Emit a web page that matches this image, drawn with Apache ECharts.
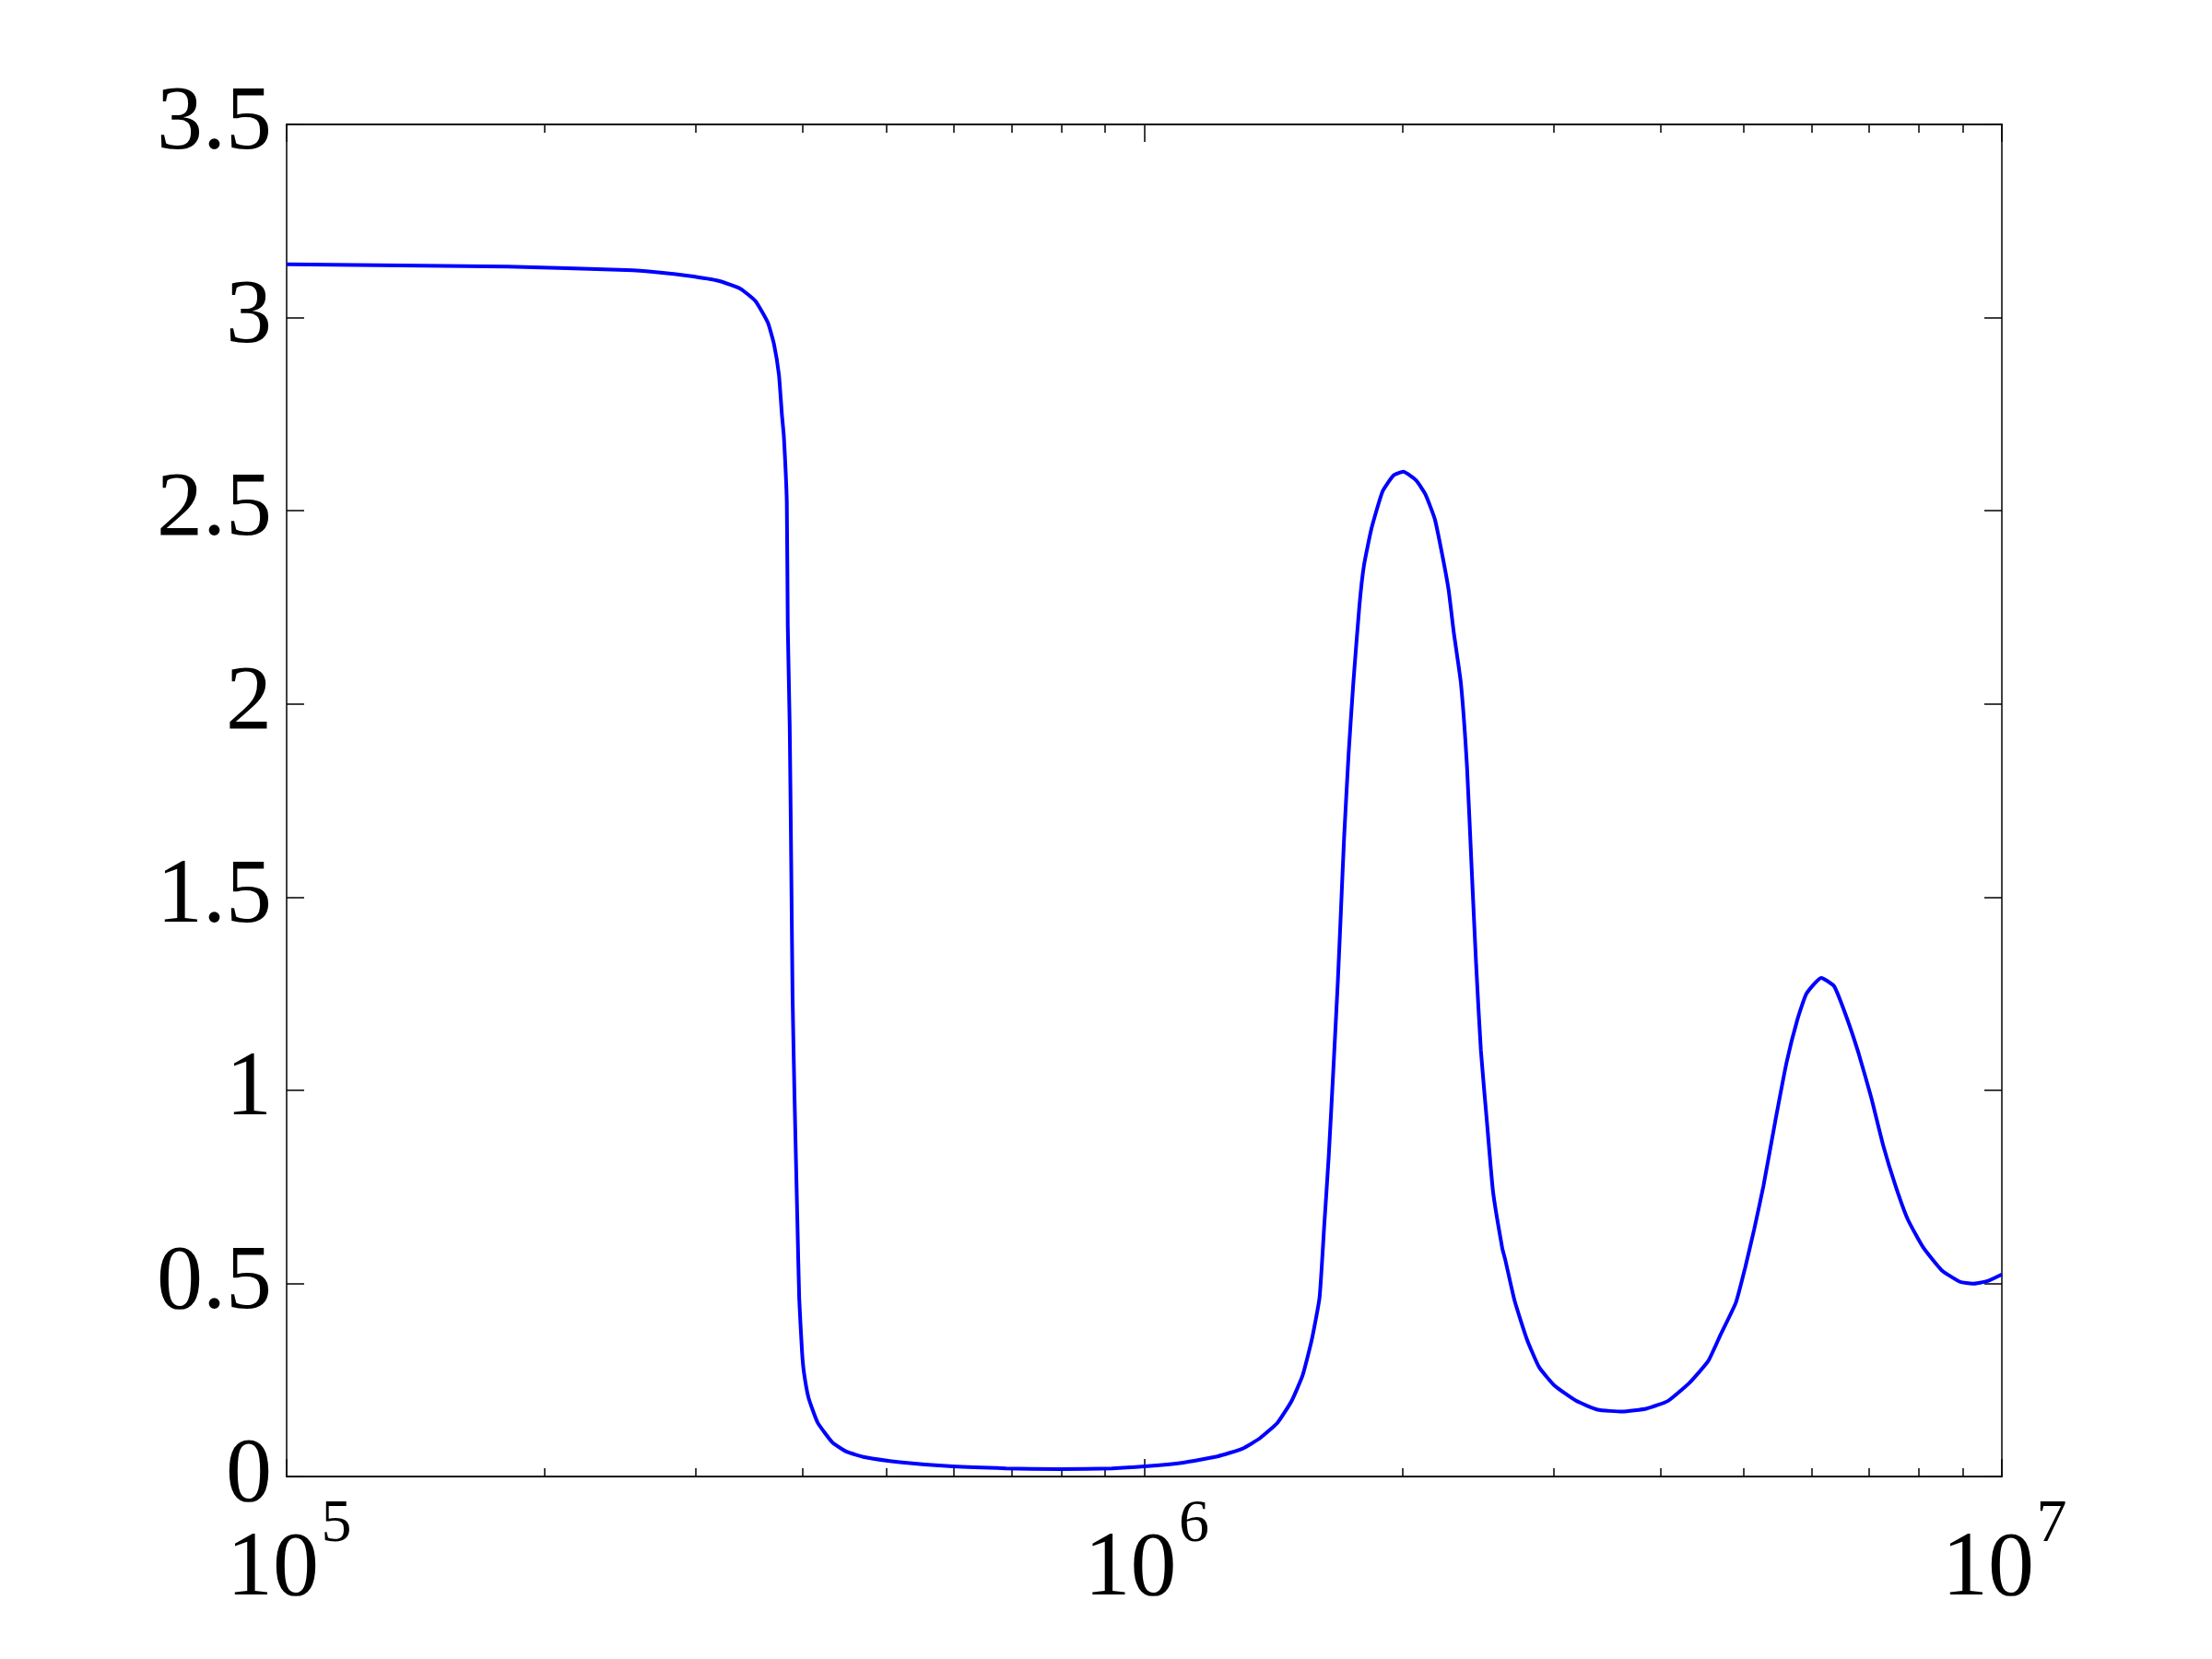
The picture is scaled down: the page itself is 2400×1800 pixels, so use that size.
<!DOCTYPE html>
<html>
<head>
<meta charset="utf-8">
<script src="https://cdn.jsdelivr.net/npm/echarts@6/dist/echarts.min.js"></script>
<style>
  html, body { margin: 0; padding: 0; background: #fff; }
  #chart { width: 2400px; height: 1800px; }
</style>
</head>
<body>
<div id="chart"></div>
<script>
// x range (log axis) and y range
const xMin = 1e5;
const xMax = 1e7;
const yMin = 0;
const yMax = 3.5;
const yStep = 0.5;

// curve
const frequency = [
  1e5, 1.81e5, 2.49e5, 2.71e5, 2.94e5, 3.19e5, 3.38e5, 3.52e5, 3.64e5, 3.70e5,
  3.75e5, 3.78e5, 3.80e5, 3.83e5, 3.84e5, 3.86e5, 3.875e5, 3.89e5, 3.91e5, 3.94e5,
  3.96e5, 3.99e5, 4.01e5, 4.06e5, 4.16e5, 4.33e5, 4.50e5, 4.72e5, 5.19e5, 5.98e5,
  6.90e5, 7.95e5, 9.17e5, 1.00e6, 1.11e6, 1.217e6, 1.301e6, 1.364e6, 1.430e6, 1.485e6,
  1.530e6, 1.568e6, 1.601e6, 1.621e6, 1.641e6, 1.661e6, 1.682e6, 1.696e6, 1.710e6, 1.731e6,
  1.753e6, 1.782e6, 1.804e6, 1.841e6, 1.896e6, 1.952e6, 2.005e6, 2.076e6, 2.128e6, 2.182e6,
  2.227e6, 2.264e6, 2.296e6, 2.340e6, 2.379e6, 2.408e6, 2.438e6, 2.469e6, 2.509e6, 2.551e6,
  2.615e6, 2.636e6, 2.703e6, 2.794e6, 2.887e6, 3.010e6, 3.188e6, 3.378e6, 3.608e6, 3.855e6,
  4.083e6, 4.325e6, 4.546e6, 4.699e6, 4.896e6, 5.019e6, 5.144e6, 5.272e6, 5.450e6, 5.609e6,
  5.774e6, 5.918e6, 6.157e6, 6.375e6, 6.588e6, 6.810e6, 7.038e6, 7.274e6, 7.518e6, 7.770e6,
  8.096e6, 8.507e6, 8.938e6, 9.239e6, 9.627e6, 1e7
];
const amplitude = [
  3.138, 3.132, 3.123, 3.117, 3.108, 3.095, 3.075, 3.043, 2.987, 2.932,
  2.852, 2.749, 2.692, 2.522, 2.202, 1.945, 1.604, 1.241, 0.985, 0.666,
  0.46, 0.323, 0.27, 0.204, 0.140, 0.088, 0.064, 0.050, 0.037, 0.026,
  0.021, 0.019, 0.021, 0.026, 0.036, 0.052, 0.072, 0.099, 0.139, 0.195,
  0.262, 0.354, 0.463, 0.646, 0.829, 1.048, 1.286, 1.469, 1.652, 1.871,
  2.054, 2.255, 2.359, 2.455, 2.550, 2.591, 2.601, 2.578, 2.542, 2.478,
  2.383, 2.295, 2.184, 2.054, 1.835, 1.579, 1.323, 1.103, 0.920, 0.737,
  0.591, 0.561, 0.455, 0.355, 0.283, 0.235, 0.196, 0.173, 0.168, 0.176,
  0.196, 0.243, 0.299, 0.367, 0.450, 0.540, 0.641, 0.752, 0.927, 1.071,
  1.182, 1.250, 1.291, 1.269, 1.190, 1.094, 0.983, 0.856, 0.752, 0.665,
  0.593, 0.534, 0.504, 0.499, 0.506, 0.523
];

// log axis minor ticks
const minorTicks = [
  2e5, 3e5, 4e5, 5e5, 6e5, 7e5, 8e5, 9e5,
  2e6, 3e6, 4e6, 5e6, 6e6, 7e6, 8e6, 9e6
];

const FONT = '"Liberation Serif", "DejaVu Serif", serif';
const lineStyle = { color: '#000', width: 1.5 };

const chart = echarts.init(document.getElementById('chart'), null, { renderer: 'canvas' });

const xAxisBase = {
  type: 'log',
  logBase: 10,
  min: xMin,
  max: xMax,
  splitLine: { show: false },
  axisLine: { show: true, lineStyle: lineStyle }
};

const option = {
  backgroundColor: '#fff',
  animation: false,
  grid: { left: 311, right: 228, top: 135, bottom: 198, containLabel: false, outerBoundsMode: 'none' },
  xAxis: [
    // major ticks + the "10" part of each label
    Object.assign({}, xAxisBase, {
      position: 'bottom',
      axisTick: { show: true, inside: true, length: 19, lineStyle: lineStyle },
      axisLabel: {
        show: true, margin: 52, showMinLabel: true, showMaxLabel: true,
        fontFamily: FONT, fontSize: 100, lineHeight: 100, color: '#000',
        padding: [0, 30, 0, 0],
        formatter: () => '10'
      }
    }),
    Object.assign({}, xAxisBase, {
      position: 'bottom',
      axisTick: { show: true, inside: true, length: 9, lineStyle: lineStyle, customValues: minorTicks },
      axisLabel: { show: false }
    }),
    Object.assign({}, xAxisBase, {
      position: 'top',
      axisTick: { show: true, inside: true, length: 19, lineStyle: lineStyle },
      axisLabel: { show: false }
    }),
    Object.assign({}, xAxisBase, {
      position: 'top',
      axisTick: { show: true, inside: true, length: 9, lineStyle: lineStyle, customValues: minorTicks },
      axisLabel: { show: false }
    }),
    // exponents, raised and to the right
    Object.assign({}, xAxisBase, {
      position: 'bottom',
      axisLine: { show: false },
      axisTick: { show: false },
      axisLabel: {
        show: true, margin: 20, showMinLabel: true, showMaxLabel: true,
        fontFamily: FONT, fontSize: 66, lineHeight: 66, color: '#000',
        padding: [0, 0, 0, 108],
        formatter: v => String(Math.round(Math.log10(v)))
      }
    })
  ],
  yAxis: [
    {
      type: 'value',
      position: 'left',
      min: yMin,
      max: yMax,
      interval: yStep,
      splitLine: { show: false },
      axisLine: { show: true, lineStyle: lineStyle },
      axisTick: { show: true, inside: true, length: 19, lineStyle: lineStyle },
      axisLabel: { fontFamily: FONT, fontSize: 100, color: '#000', margin: 16 }
    },
    {
      type: 'value',
      position: 'right',
      min: yMin,
      max: yMax,
      interval: yStep,
      splitLine: { show: false },
      axisLine: { show: true, lineStyle: lineStyle },
      axisTick: { show: true, inside: true, length: 19, lineStyle: lineStyle },
      axisLabel: { show: false }
    }
  ],
  series: [
    {
      type: 'line',
      xAxisIndex: 0,
      yAxisIndex: 0,
      data: frequency.map((f, i) => [f, amplitude[i]]),
      showSymbol: false,
      smooth: 0.15,
      clip: true,
      lineStyle: { color: '#0000ff', width: 4 }
    }
  ]
};

chart.setOption(option);
</script>
</body>
</html>
